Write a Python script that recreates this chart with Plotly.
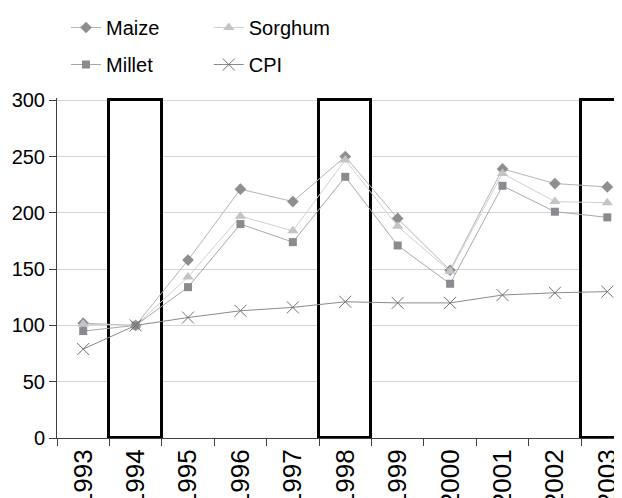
import plotly.graph_objects as go

years = ["1993", "1994", "1995", "1996", "1997", "1998",
         "1999", "2000", "2001", "2002", "2003"]
maize = [102, 100, 158, 221, 210, 250, 195, 149, 239, 226, 223]
sorghum = [101, 100, 143, 197, 184, 247, 188, 148, 235, 210, 209]
millet = [95, 100, 134, 190, 174, 232, 171, 137, 224, 201, 196]
cpi = [79, 100, 107, 113, 116, 121, 120, 120, 127, 129, 130]
# highlighted years, drawn as open boxes up to 300
boxes = [None, 300, None, None, None, 300, None, None, None, None, 300]

FONT = "Liberation Sans, Arial, sans-serif"

fig = go.Figure()

fig.add_trace(go.Bar(
    x=years, y=boxes, width=1, showlegend=False, hoverinfo="skip",
    marker=dict(color="white", line=dict(color="black", width=3)),
))

fig.add_trace(go.Scatter(
    x=years, y=maize, name="Maize", mode="lines+markers",
    line=dict(color="#b4b4b4", width=1),
    marker=dict(symbol="diamond", size=9, color="#8e8e92"),
    legend="legend", legendgroup="a",
))
fig.add_trace(go.Scatter(
    x=years, y=sorghum, name="Sorghum", mode="lines+markers",
    line=dict(color="#d0d0d0", width=1),
    marker=dict(symbol="triangle-up", size=10, color="#c4c4c6"),
    legend="legend2", legendgroup="c",
))
fig.add_trace(go.Scatter(
    x=years, y=millet, name="Millet", mode="lines+markers",
    line=dict(color="#a8a8a8", width=1),
    marker=dict(symbol="square", size=8, color="#8a8a90"),
    legend="legend", legendgroup="b",
))
fig.add_trace(go.Scatter(
    x=years, y=cpi, name="CPI", mode="lines+markers",
    line=dict(color="#8a8a8a", width=1),
    marker=dict(symbol="x-thin", size=12, color="#707070",
                line=dict(color="#707070", width=1)),
    legend="legend2", legendgroup="d",
))

legend_style = dict(
    orientation="v", xref="container", yref="container",
    xanchor="left", yanchor="top", bgcolor="rgba(0,0,0,0)",
    font=dict(family=FONT, size=20, color="black"),
    tracegroupgap=8, itemwidth=30,
)

# the page body adds an 8px offset, so the figure is 8px smaller than the window
fig.update_layout(
    width=614, height=490,
    margin=dict(l=49, r=0, t=90, b=60, autoexpand=False),
    paper_bgcolor="white", plot_bgcolor="white",
    font=dict(family=FONT, size=20, color="black"),
    bargap=0,
    legend=dict(x=0.0945, y=1.006, **legend_style),
    legend2=dict(x=0.327, y=1.006, **legend_style),
)

fig.update_xaxes(
    type="category", range=[-0.5, 10.28],
    tickangle=-90, tickson="boundaries", ticks="outside",
    ticklen=7, tickcolor="#404040", tickwidth=1,
    showline=True, linecolor="#404040", linewidth=1,
    showgrid=False, tickfont=dict(family=FONT, size=26),
)
fig.update_yaxes(
    range=[0, 302], tickvals=[0, 50, 100, 150, 200, 250, 300],
    ticks="outside", ticklen=7, tickcolor="#404040",
    showline=True, linecolor="#404040", linewidth=1,
    showgrid=True, gridcolor="#d4d4d4", gridwidth=1,
    zeroline=False, tickfont=dict(family=FONT, size=20),
)

fig.write_html("out.html")
